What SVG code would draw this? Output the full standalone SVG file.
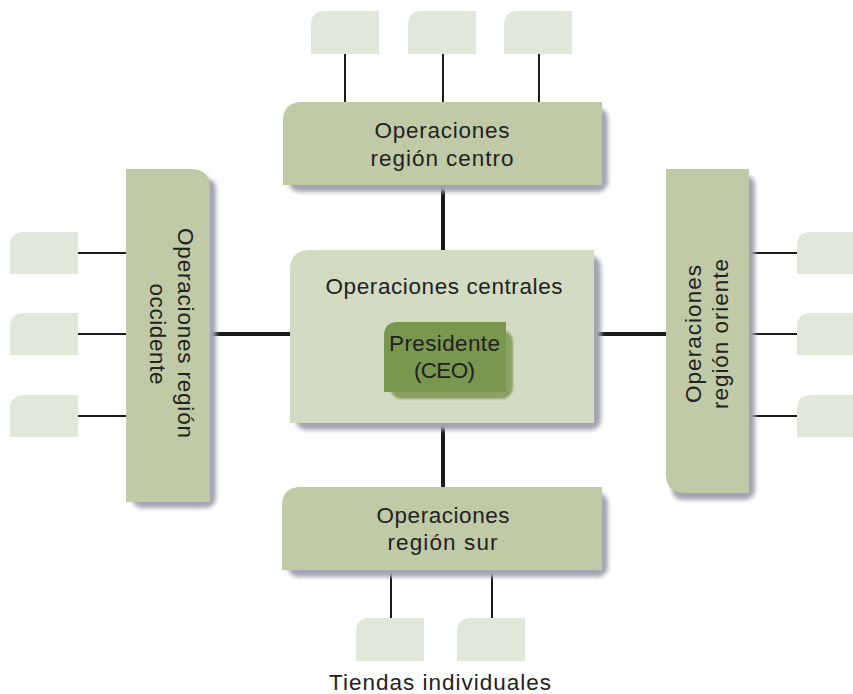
<svg xmlns="http://www.w3.org/2000/svg" width="853" height="694" viewBox="0 0 853 694">
<style>
.t{font-family:"Liberation Sans",Arial,sans-serif;font-size:22.5px;fill:#222;text-anchor:middle}
.small{fill:#e2e8d9}
.reg{fill:#c0caa6}
.shadow{fill:#a4a4b2}
.thin{stroke:#1a1a1a;stroke-width:2;fill:none}
.thick{stroke:#1a1a1a;stroke-width:4;fill:none}
</style>
<defs>
<filter id="blur" x="-10%" y="-10%" width="120%" height="120%"><feGaussianBlur stdDeviation="2"/></filter>
<filter id="blur2" x="-10%" y="-10%" width="120%" height="120%"><feGaussianBlur stdDeviation="1.2"/></filter>
</defs>
<rect width="853" height="694" fill="#ffffff"/>

<g id="connectors">
<line class="thin" x1="345" y1="54" x2="345" y2="102"/>
<line class="thin" x1="443" y1="54" x2="443" y2="102"/>
<line class="thin" x1="539" y1="54" x2="539" y2="102"/>
<line class="thin" x1="78" y1="253" x2="126" y2="253"/>
<line class="thin" x1="78" y1="334" x2="126" y2="334"/>
<line class="thin" x1="78" y1="416" x2="126" y2="416"/>
<line class="thin" x1="749" y1="253" x2="797" y2="253"/>
<line class="thin" x1="749" y1="334" x2="797" y2="334"/>
<line class="thin" x1="749" y1="416" x2="797" y2="416"/>
<line class="thin" x1="391" y1="570" x2="391" y2="618"/>
<line class="thin" x1="492" y1="570" x2="492" y2="618"/>
<line class="thick" x1="443" y1="185" x2="443" y2="250"/>
<line class="thick" x1="443" y1="423" x2="443" y2="487"/>
<line class="thick" x1="210" y1="334" x2="290" y2="334"/>
<line class="thick" x1="594" y1="334" x2="666" y2="334"/>
</g>

<g id="store-top-1"><path class="small" d="M325,11 H379 V54 H311 V25 Q311,11 325,11 Z"/></g>
<g id="store-top-2"><path class="small" d="M422,11 H476 V54 H408 V25 Q408,11 422,11 Z"/></g>
<g id="store-top-3"><path class="small" d="M518,11 H572 V54 H504 V25 Q504,11 518,11 Z"/></g>

<g id="store-left-1"><path class="small" d="M24,232 H78 V274 H10 V246 Q10,232 24,232 Z"/></g>
<g id="store-left-2"><path class="small" d="M24,313 H78 V355 H10 V327 Q10,313 24,313 Z"/></g>
<g id="store-left-3"><path class="small" d="M24,395 H78 V437 H10 V409 Q10,395 24,395 Z"/></g>

<g id="store-right-1"><path class="small" d="M811,232 H865 V274 H797 V246 Q797,232 811,232 Z"/></g>
<g id="store-right-2"><path class="small" d="M811,313 H865 V355 H797 V327 Q797,313 811,313 Z"/></g>
<g id="store-right-3"><path class="small" d="M811,395 H865 V437 H797 V409 Q797,395 811,395 Z"/></g>

<g id="store-bottom-1"><path class="small" d="M370,618 H424 V661 H356 V632 Q356,618 370,618 Z"/></g>
<g id="store-bottom-2"><path class="small" d="M471,618 H525 V661 H457 V632 Q457,618 471,618 Z"/></g>

<g id="region-centro">
<rect class="shadow" x="289" y="108" width="319" height="84" rx="10" filter="url(#blur)"/>
<path class="reg" d="M302,102 H602 V185 H283 V121 Q283,102 302,102 Z"/>
<text class="t" x="442" y="138" textLength="135" lengthAdjust="spacing">Operaciones</text>
<text class="t" x="442" y="166" textLength="143" lengthAdjust="spacing">región centro</text>
</g>

<g id="region-occidente">
<rect class="shadow" x="132" y="178" width="84" height="330" rx="10" filter="url(#blur)"/>
<path class="reg" d="M126,169 H191 Q210,169 210,188 V502 H126 Z"/>
<text class="t" transform="translate(178,333) rotate(90)" textLength="210" lengthAdjust="spacing">Operaciones región</text>
<text class="t" transform="translate(150,334) rotate(90)" textLength="101" lengthAdjust="spacing">occidente</text>
</g>

<g id="operaciones-centrales">
<rect class="shadow" x="296" y="256" width="305" height="174" rx="10" filter="url(#blur)"/>
<path fill="#d3dbc2" d="M310,250 H594 V423 H290 V270 Q290,250 310,250 Z"/>
<text class="t" x="444" y="294" textLength="237" lengthAdjust="spacing">Operaciones centrales</text>
</g>

<g id="presidente">
<rect x="390" y="330" width="123" height="69" rx="12" fill="#8aa264" filter="url(#blur2)"/>
<path fill="#7a9750" d="M398,322 H506 V392 H384 V336 Q384,322 398,322 Z"/>
<text class="t" x="444.5" y="351" textLength="111" lengthAdjust="spacing">Presidente</text>
<text class="t" x="444.5" y="378" textLength="61" lengthAdjust="spacing">(CEO)</text>
</g>

<g id="region-oriente">
<rect class="shadow" x="672" y="175" width="83" height="325" rx="10" filter="url(#blur)"/>
<path class="reg" d="M666,169 H749 V493 H685 Q666,493 666,474 Z"/>
<text class="t" transform="translate(701,334) rotate(-90)" textLength="138" lengthAdjust="spacing">Operaciones</text>
<text class="t" transform="translate(728,334) rotate(-90)" textLength="150" lengthAdjust="spacing">región oriente</text>
</g>

<g id="region-sur">
<rect class="shadow" x="288" y="493" width="320" height="84" rx="10" filter="url(#blur)"/>
<path class="reg" d="M301,487 H602 V570 H282 V506 Q282,487 301,487 Z"/>
<text class="t" x="443" y="523" textLength="133" lengthAdjust="spacing">Operaciones</text>
<text class="t" x="442.5" y="550" textLength="110" lengthAdjust="spacing">región sur</text>
</g>

<g id="label-tiendas">
<text class="t" x="440" y="690" textLength="222" lengthAdjust="spacing">Tiendas individuales</text>
</g>
</svg>
